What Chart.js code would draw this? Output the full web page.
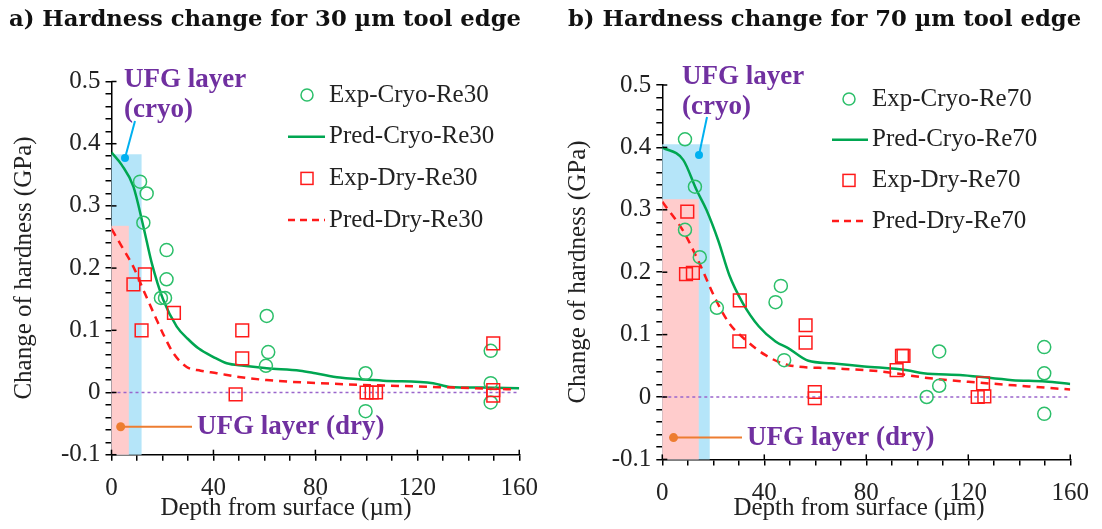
<!DOCTYPE html>
<html>
<head>
<meta charset="utf-8">
<script src="https://cdn.jsdelivr.net/npm/chart.js@4.4.0/dist/chart.umd.min.js"></script>
<style>
  body { margin: 0; background: #fff; }
  .panel { position: absolute; top: 0; width: 551px; height: 529px; }
  .panel canvas { position: absolute; left: 0; top: 0; }
  .title { position: absolute; top: 5px; font: bold 22.7px "DejaVu Serif", serif; color: #111; white-space: nowrap; }
</style>
</head>
<body>
<div class="panel" style="left:0">
  <canvas id="chartA" width="551" height="529"></canvas>
  <div class="title" style="left:9px">a) Hardness change for 30 µm tool edge</div>
</div>
<div class="panel" style="left:551px">
  <canvas id="chartB" width="551" height="529"></canvas>
  <div class="title" style="left:17px">b) Hardness change for 70 µm tool edge</div>
</div>
<script>
// ---- panel a: 30 µm edge radius ----
const expCryoDepthA = [11.2, 12.5, 13.8, 21.6, 21.6, 19.4, 21.0, 60.9, 61.5, 60.6, 99.7, 99.7, 148.8, 148.8, 148.8];
const expCryoA      = [0.339, 0.273, 0.320, 0.229, 0.182, 0.152, 0.152, 0.123, 0.065, 0.043, 0.031, -0.030, 0.067, 0.015, -0.016];
const predCryoDepthA = [0, 4, 8.6, 12.5, 15.8, 20.3, 25.6, 30, 34.1, 40, 45.2, 52, 60.9, 74, 80, 89.6, 106.6, 126.2, 132.8, 145, 160];
const predCryoA      = [0.386, 0.366, 0.331, 0.267, 0.208, 0.149, 0.106, 0.086, 0.071, 0.057, 0.047, 0.043, 0.039, 0.035, 0.031, 0.024, 0.019, 0.015, 0.009, 0.008, 0.007];
const expDryDepthA = [8.6, 13.1, 11.8, 24.5, 51.3, 51.3, 48.7, 100.1, 102.1, 103.8, 149.8, 149.8, 149.8];
const expDryA      = [0.174, 0.190, 0.100, 0.128, 0.100, 0.055, -0.003, 0.000, 0.000, 0.000, 0.079, 0.004, -0.005];
const predDryDepthA = [0, 4, 8.6, 12.5, 17.7, 21, 24.3, 29.5, 35, 41.3, 50, 60.9, 87, 126, 157.6];
const predDryA      = [0.263, 0.235, 0.202, 0.165, 0.117, 0.088, 0.063, 0.041, 0.035, 0.031, 0.025, 0.020, 0.014, 0.009, 0.005];
// UFG layer: [depth µm, hardness change GPa]
const ufgCryoA = [11.8, 0.383];
const ufgDryA  = [6.8, 0.268];
const ufgCryoDotA = [5.3, 0.377];
const ufgDryDotA  = [3.6, -0.055];

// ---- panel b: 70 µm edge radius ----
const expCryoDepthB = [8.9, 8.9, 12.8, 14.7, 21.4, 44.4, 46.5, 47.8, 103.7, 108.6, 108.6, 149.8, 149.8, 149.8];
const expCryoB      = [0.413, 0.268, 0.337, 0.224, 0.143, 0.152, 0.178, 0.059, 0.000, 0.073, 0.018, 0.080, 0.038, -0.027];
const predCryoDepthB = [0, 8.2, 13.4, 17.3, 22, 26.3, 31.5, 37.9, 44.4, 49.5, 57.3, 66.3, 79.2, 96, 102.4, 117.9, 137.3, 150.2, 160];
const predCryoB      = [0.400, 0.380, 0.332, 0.300, 0.250, 0.195, 0.151, 0.113, 0.089, 0.078, 0.058, 0.054, 0.049, 0.043, 0.038, 0.035, 0.027, 0.025, 0.021];
const expDryDepthB = [9.8, 9.3, 12.0, 30.4, 30.2, 56.2, 56.2, 59.8, 59.8, 91.9, 94.0, 94.6, 125.8, 123.7, 126.3];
const expDryB      = [0.297, 0.197, 0.199, 0.155, 0.089, 0.115, 0.087, 0.008, -0.002, 0.043, 0.066, 0.066, 0.022, 0.000, 0.001];
const predDryDepthB = [0, 8.2, 14.6, 21.1, 26.3, 32.8, 40.5, 49.5, 66.3, 85.6, 105, 124.3, 143.6, 160];
const predDryB      = [0.313, 0.266, 0.214, 0.155, 0.118, 0.091, 0.067, 0.051, 0.046, 0.041, 0.030, 0.023, 0.017, 0.012];
const ufgCryoB = [18.6, 0.405];
const ufgDryB  = [14.3, 0.317];
const ufgCryoDotB = [14.4, 0.388];
const ufgDryDotB  = [4.4, -0.065];

const xTicks = [0, 40, 80, 120, 160];
const yTicks = [-0.1, 0, 0.1, 0.2, 0.3, 0.4, 0.5];

const GREEN = '#00a651', GREEN_MK = '#2cbf6a', RED = '#ff1a1a', PURPLE = '#7030a0';
const SERIF = '"Liberation Serif", serif';
Chart.defaults.font.family = SERIF;
Chart.defaults.font.size = 25;

const pts = (xs, ys) => xs.map((x, i) => ({ x: x, y: ys[i] }));

// shading, leader lines, labels and legend drawn on top of the scales
const decorations = {
  id: 'decorations',
  beforeDatasetsDraw(chart) {
    const o = chart.options.plugins.decorations;
    const { ctx, scales: { x, y } } = chart;
    const bottom = y.getPixelForValue(y.min);
    ctx.save();
    ctx.fillStyle = '#b5e5f9';
    ctx.fillRect(x.getPixelForValue(0), y.getPixelForValue(o.cryo[1]),
      x.getPixelForValue(o.cryo[0]) - x.getPixelForValue(0), bottom - y.getPixelForValue(o.cryo[1]));
    ctx.fillStyle = '#ffcccc';
    ctx.fillRect(x.getPixelForValue(0), y.getPixelForValue(o.dry[1]),
      x.getPixelForValue(o.dry[0]) - x.getPixelForValue(0), bottom - y.getPixelForValue(o.dry[1]));
    ctx.restore();
  },
  afterDatasetsDraw(chart) {
    const o = chart.options.plugins.decorations;
    const { ctx, scales: { x, y } } = chart;
    ctx.save();

    // major ticks cross the axis lines
    ctx.strokeStyle = '#000'; ctx.lineWidth = 1.5;
    const x0 = x.getPixelForValue(x.min), yb = y.getPixelForValue(y.min);
    yTicks.forEach(v => {
      const py = y.getPixelForValue(v);
      ctx.beginPath(); ctx.moveTo(x0, py); ctx.lineTo(x0 + 5, py); ctx.stroke();
    });
    xTicks.forEach(v => {
      const px = x.getPixelForValue(v);
      ctx.beginPath(); ctx.moveTo(px, yb); ctx.lineTo(px, yb - 5); ctx.stroke();
    });

    // cryo leader
    const cx = x.getPixelForValue(o.cryoDot[0]), cy = y.getPixelForValue(o.cryoDot[1]);
    ctx.strokeStyle = '#00b0f0'; ctx.fillStyle = '#00b0f0'; ctx.lineWidth = 2;
    ctx.beginPath(); ctx.moveTo(cx, cy); ctx.lineTo(o.cryoEnd[0], o.cryoEnd[1]); ctx.stroke();
    ctx.beginPath(); ctx.arc(cx, cy, 4, 0, Math.PI * 2); ctx.fill();

    // dry leader
    const dx = x.getPixelForValue(o.dryDot[0]), dy = y.getPixelForValue(o.dryDot[1]);
    ctx.strokeStyle = '#ed7d31'; ctx.fillStyle = '#ed7d31';
    ctx.beginPath(); ctx.moveTo(dx, dy); ctx.lineTo(o.dryText[0] - 5, dy); ctx.stroke();
    ctx.beginPath(); ctx.arc(dx, dy, 4.5, 0, Math.PI * 2); ctx.fill();

    ctx.fillStyle = PURPLE;
    ctx.font = 'bold 27px ' + SERIF;
    ctx.textBaseline = 'middle';
    ctx.textAlign = 'left';
    ctx.fillText('UFG layer', o.cryoText[0], o.cryoText[1]);
    ctx.fillText('(cryo)', o.cryoText[0], o.cryoText[1] + 30);
    ctx.fillText('UFG layer (dry)', o.dryText[0], dy);

    // legend
    ctx.font = '25px ' + SERIF;
    ctx.fillStyle = '#222';
    const L = o.legend;
    chart.data.datasets.slice(0, 4).forEach((ds, i) => {
      const ry = L.y + i * L.dy;
      ctx.fillText(ds.label, L.textX, ry);
      ctx.strokeStyle = ds.borderColor; ctx.lineWidth = 1.5; ctx.setLineDash([]);
      if (i === 0) {
        ctx.beginPath(); ctx.arc(L.markX, ry, 6, 0, Math.PI * 2); ctx.stroke();
      } else if (i === 2) {
        ctx.strokeRect(L.markX - 6, ry - 6, 12, 12);
      } else {
        ctx.lineWidth = 2.5;
        if (i === 3) ctx.setLineDash([7, 5]);
        ctx.beginPath(); ctx.moveTo(L.lineX[0], ry); ctx.lineTo(L.lineX[1], ry); ctx.stroke();
      }
    });
    ctx.setLineDash([]);

    // axis titles
    ctx.fillStyle = '#222';
    ctx.textAlign = 'center';
    ctx.fillText('Depth from surface (µm)', o.xTitle[0], o.xTitle[1]);
    ctx.translate(o.yTitle[0], o.yTitle[1]);
    ctx.rotate(-Math.PI / 2);
    ctx.fillText('Change of hardness (GPa)', 0, 0);
    ctx.restore();
  }
};

function makeChart(id, tag, d) {
  return new Chart(document.getElementById(id), {
    type: 'scatter',
    data: {
      datasets: [
        { label: 'Exp-Cryo-' + tag, data: pts(d.expCryoDepth, d.expCryo), pointStyle: 'circle', pointRadius: 6.5,
          borderColor: GREEN_MK, backgroundColor: 'rgba(0,0,0,0)', pointBorderWidth: 1.5, order: 2 },
        { label: 'Pred-Cryo-' + tag, data: pts(d.predCryoDepth, d.predCryo), showLine: true, pointRadius: 0,
          borderColor: GREEN, borderWidth: 2.5, cubicInterpolationMode: 'monotone', order: 4 },
        { label: 'Exp-Dry-' + tag, data: pts(d.expDryDepth, d.expDry), pointStyle: 'rect', pointRadius: 9,
          borderColor: RED, backgroundColor: 'rgba(0,0,0,0)', pointBorderWidth: 1.5, order: 1 },
        { label: 'Pred-Dry-' + tag, data: pts(d.predDryDepth, d.predDry), showLine: true, pointRadius: 0,
          borderColor: RED, borderWidth: 2.5, borderDash: [8, 6], cubicInterpolationMode: 'monotone', order: 3 },
        { label: 'zero', data: [{ x: 0, y: 0 }, { x: 160, y: 0 }], showLine: true, pointRadius: 0,
          borderColor: '#9a66cc', borderWidth: 1.5, borderDash: [3, 3], order: 5 }
      ]
    },
    options: {
      responsive: false,
      animation: false,
      layout: { padding: { left: 0, top: d.top, right: d.right, bottom: 0 } },
      plugins: { legend: { display: false }, tooltip: { enabled: false }, decorations: d.deco },
      scales: {
        x: {
          type: 'linear', min: xTicks[0], max: xTicks[xTicks.length - 1],
          afterFit: s => { s.height = d.xAxisH; },
          border: { color: '#000', width: 1.5 },
          grid: { drawOnChartArea: false, color: '#000', lineWidth: 1.5, tickLength: 6 },
          ticks: {
            stepSize: 10, padding: 13, autoSkip: false, maxRotation: 0, minRotation: 0,
            color: '#222', font: { family: SERIF, size: 25 },
            callback: v => xTicks.includes(v) ? String(v) : ''
          }
        },
        y: {
          min: yTicks[0], max: yTicks[yTicks.length - 1],
          afterFit: s => { s.width = d.yAxisW; },
          border: { color: '#000', width: 1.5 },
          grid: { drawOnChartArea: false, color: '#000', lineWidth: 1.5, tickLength: 6 },
          ticks: {
            stepSize: 0.02, padding: 5, autoSkip: false, color: '#222', font: { family: SERIF, size: 25 },
            callback: v => {
              const r = Math.round(v * 10) / 10;
              return Math.abs(v - r) < 1e-6 && yTicks.includes(r) ? String(r) : '';
            }
          }
        }
      }
    },
    plugins: [decorations]
  });
}

makeChart('chartA', 'Re30', {
  expCryoDepth: expCryoDepthA, expCryo: expCryoA, predCryoDepth: predCryoDepthA, predCryo: predCryoA,
  expDryDepth: expDryDepthA, expDry: expDryA, predDryDepth: predDryDepthA, predDry: predDryA,
  top: 81.5, right: 31.7, xAxisH: 74.3, yAxisW: 111.5,
  deco: {
    cryo: ufgCryoA, dry: ufgDryA, cryoDot: ufgCryoDotA, dryDot: ufgDryDotA,
    cryoEnd: [135, 121], cryoText: [124, 80], dryText: [197, 0],
    legend: { y: 95, dy: 41.7, textX: 329, markX: 307, lineX: [288, 325] },
    xTitle: [286, 508], yTitle: [24, 268]
  }
});

makeChart('chartB', 'Re70', {
  expCryoDepth: expCryoDepthB, expCryo: expCryoB, predCryoDepth: predCryoDepthB, predCryo: predCryoB,
  expDryDepth: expDryDepthB, expDry: expDryB, predDryDepth: predDryDepthB, predDry: predDryB,
  top: 85, right: 26.3, xAxisH: 69.6, yAxisW: 111.3,
  deco: {
    cryo: ufgCryoB, dry: ufgDryB, cryoDot: ufgCryoDotB, dryDot: ufgDryDotB,
    cryoEnd: [156, 117], cryoText: [131, 77], dryText: [196, 0],
    legend: { y: 99, dy: 40.7, textX: 321, markX: 298, lineX: [281, 317] },
    xTitle: [308, 508], yTitle: [27, 272]
  }
});
</script>
</body>
</html>
